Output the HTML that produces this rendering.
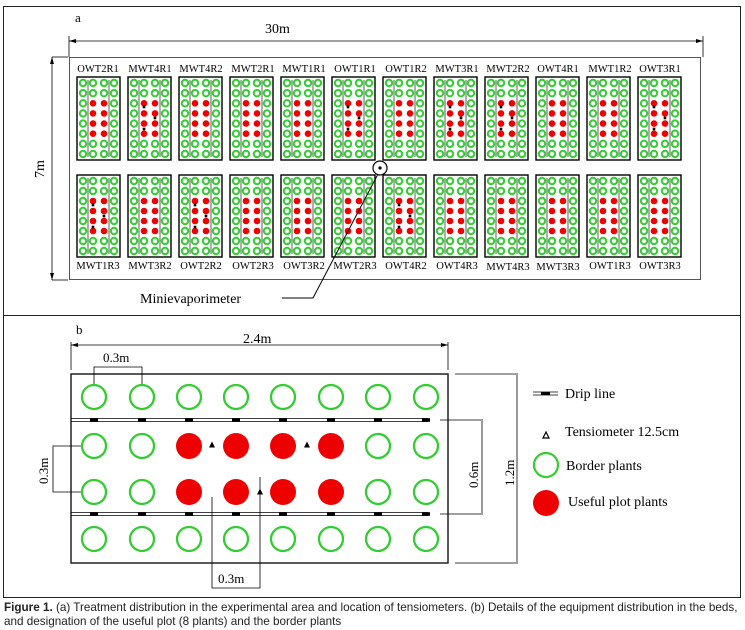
<!DOCTYPE html>
<html><head><meta charset="utf-8"><style>
html,body{margin:0;padding:0;background:#fff;width:745px;height:630px;overflow:hidden}
svg{display:block}
.t{font-family:"Liberation Serif",serif;fill:#000}
.cap{position:absolute;left:4px;top:601px;font-family:"Liberation Sans",sans-serif;font-size:11.7px;line-height:14px;color:#222;width:741px;white-space:nowrap}
</style></head><body>
<svg id="s" width="745" height="630" xmlns="http://www.w3.org/2000/svg">
<rect x="3.5" y="6.5" width="737" height="309" fill="none" stroke="#222" stroke-width="1"/>
<rect x="3.5" y="315.5" width="737" height="282" fill="none" stroke="#222" stroke-width="1"/>
<text class="t" x="75" y="22" font-size="13">a</text>
<text class="t" x="265" y="33" font-size="14">30m</text>
<line x1="69" y1="41" x2="703" y2="41" stroke="#000" stroke-width="0.8"/>
<polygon points="69,41 76,39 76,43" fill="#000"/><polygon points="703,41 696,39 696,43" fill="#000"/>
<line x1="69" y1="36" x2="69" y2="57" stroke="#000" stroke-width="0.8"/>
<line x1="703" y1="36" x2="703" y2="57" stroke="#000" stroke-width="0.8"/>
<rect x="69.5" y="57.5" width="631" height="222" fill="none" stroke="#555" stroke-width="1"/>
<line x1="52" y1="57" x2="52" y2="280" stroke="#000" stroke-width="0.8"/>
<line x1="52" y1="57" x2="68" y2="57" stroke="#000" stroke-width="0.8"/>
<line x1="52" y1="280" x2="68" y2="280" stroke="#000" stroke-width="0.8"/>
<polygon points="52,57 50,64 54,64" fill="#000"/><polygon points="52,280 50,273 54,273" fill="#000"/>
<text class="t" x="0" y="0" font-size="14" transform="translate(44,178) rotate(-90)">7m</text>
<g class="t" font-size="10.5" text-anchor="middle">
<text x="98" y="72">OWT2R1</text><text x="150" y="72">MWT4R1</text><text x="201" y="72">MWT4R2</text><text x="253" y="72">MWT2R1</text><text x="304" y="72">MWT1R1</text><text x="355" y="72">OWT1R1</text><text x="406" y="72">OWT1R2</text><text x="457" y="72">MWT3R1</text><text x="508" y="72">MWT2R2</text><text x="558" y="72">OWT4R1</text><text x="610" y="72">MWT1R2</text><text x="660" y="72">OWT3R1</text>
<text x="98" y="269">MWT1R3</text><text x="150" y="269">MWT3R2</text><text x="201" y="269">OWT2R2</text><text x="253" y="269">OWT2R3</text><text x="304" y="269">OWT3R2</text><text x="355" y="269">MWT2R3</text><text x="406" y="269">OWT4R2</text><text x="457" y="269">OWT4R3</text><text x="508" y="270">MWT4R3</text><text x="558" y="270">MWT3R3</text><text x="610" y="269">OWT1R3</text><text x="660" y="269">OWT3R3</text>
</g>
<g id="plots"></g>
<circle cx="380" cy="168" r="7" fill="#fff" stroke="#000" stroke-width="1.2"/>
<circle cx="380" cy="168" r="1.6" fill="#000"/>
<polyline points="378,174 313,298 282,298" fill="none" stroke="#000" stroke-width="1"/>
<text class="t" x="140" y="303" font-size="14">Minievaporimeter</text>

<text class="t" x="76" y="334" font-size="13">b</text>
<text class="t" x="243" y="343" font-size="14">2.4m</text>
<line x1="71" y1="345" x2="448" y2="345" stroke="#000" stroke-width="0.8"/>
<polygon points="71,345 78,343 78,347" fill="#000"/><polygon points="448,345 441,343 441,347" fill="#000"/>
<line x1="71" y1="342" x2="71" y2="370" stroke="#000" stroke-width="0.8"/>
<line x1="448" y1="342" x2="448" y2="370" stroke="#000" stroke-width="0.8"/>
<rect x="71" y="374" width="377" height="189" fill="none" stroke="#222" stroke-width="1.5"/>
<text class="t" x="103" y="362" font-size="13">0.3m</text>
<polyline points="94,410 94,367 142,367 142,410" fill="none" stroke="#000" stroke-width="0.8"/>
<polyline points="82,446 53,446 53,492 82,492" fill="none" stroke="#000" stroke-width="0.8"/>
<text class="t" font-size="13" transform="translate(48,484) rotate(-90)">0.3m</text>
<polyline points="212,497 212,588 260,588 260,477" fill="none" stroke="#000" stroke-width="0.8"/>
<text class="t" x="218" y="583" font-size="13">0.3m</text>
<line x1="440" y1="420" x2="483" y2="420" stroke="#000" stroke-width="0.8"/>
<line x1="440" y1="514" x2="483" y2="514" stroke="#000" stroke-width="0.8"/>
<line x1="482" y1="421" x2="482" y2="513" stroke="#000" stroke-width="0.8"/>
<text class="t" font-size="13" transform="translate(478,488) rotate(-90)">0.6m</text>
<line x1="455" y1="374" x2="518" y2="374" stroke="#000" stroke-width="0.8"/>
<line x1="455" y1="563" x2="518" y2="563" stroke="#000" stroke-width="0.8"/>
<line x1="517" y1="375" x2="517" y2="562" stroke="#000" stroke-width="0.8"/>
<text class="t" font-size="13" transform="translate(514,486) rotate(-90)">1.2m</text>
<g id="bed"></g>
<line x1="533" y1="392" x2="558" y2="392" stroke="#000" stroke-width="0.8"/>
<line x1="533" y1="395" x2="558" y2="395" stroke="#000" stroke-width="0.8"/>
<rect x="541" y="392" width="9" height="3" fill="#000"/>
<text class="t" x="565" y="398" font-size="14">Drip line</text>
<polygon points="546,432 543,438 549,438" fill="#fff" stroke="#000" stroke-width="1.2"/>
<text class="t" x="565" y="436" font-size="14">Tensiometer 12.5cm</text>
<circle cx="546" cy="465" r="12" fill="#fff" stroke="#33cc33" stroke-width="2.2"/>
<text class="t" x="566" y="470" font-size="14">Border plants</text>
<circle cx="546" cy="503" r="13" fill="#ee0000"/>
<text class="t" x="568" y="506" font-size="14">Useful plot plants</text>
</svg>
<div class="cap"><b>Figure 1.</b> (a) Treatment distribution in the experimental area and location of tensiometers. (b) Details of the equipment distribution in the beds,<br>and designation of the useful plot (8 plants) and the border plants</div>
<script>
var NS="http://www.w3.org/2000/svg";
function el(p,n,a){var e=document.createElementNS(NS,n);for(var k in a)e.setAttribute(k,a[k]);p.appendChild(e);return e;}
var P=document.getElementById("plots");
var topT=[1,5,7,8,11],botT=[0,2,6];
for(var r=0;r<2;r++){var y=r?175:77,h=r?82:83;
for(var i=0;i<12;i++){var x=77+i*51;
el(P,"rect",{x:x,y:y,width:43,height:h,fill:"#fff",stroke:"#000","stroke-width":1.4});
el(P,"line",{x1:x+11,y1:y+3,x2:x+11,y2:y+h-3,stroke:"#777","stroke-width":1.2});
el(P,"line",{x1:x+32,y1:y+3,x2:x+32,y2:y+h-3,stroke:"#777","stroke-width":1.2});
var cx=[6,16,27,37];
for(var j=0;j<8;j++){var cy=y+6+j*(h-12)/7;
for(var c=0;c<4;c++){
if((c==1||c==2)&&j>=2&&j<=5)el(P,"circle",{cx:x+cx[c],cy:cy,r:3.3,fill:"#e00"});
else el(P,"circle",{cx:x+cx[c],cy:cy,r:3.2,fill:"#fff",stroke:"#3c3","stroke-width":2});}}
var T=r?botT:topT;if(T.indexOf(i)>=0){
[[16,30],[27,41],[16,52]].forEach(function(d){el(P,"rect",{x:x+d[0]-1.3,y:y+d[1]-1.3,width:2.6,height:2.6,fill:"#000"});});}
}}
var B=document.getElementById("bed");
var xs=[94,142,189,236,283,331,378,426],ys=[397,446,492,539];
[420,514].forEach(function(yy){
el(B,"line",{x1:71,y1:yy-1.5,x2:428,y2:yy-1.5,stroke:"#000","stroke-width":0.8});
el(B,"line",{x1:71,y1:yy+1.5,x2:428,y2:yy+1.5,stroke:"#000","stroke-width":0.8});
xs.forEach(function(x,k){el(B,"rect",{x:x-4,y:yy-1.8,width:8,height:3.6,fill:"#000"});});});
ys.forEach(function(y,ri){xs.forEach(function(x,ci){
if((ri==1||ri==2)&&ci>=2&&ci<=5)el(B,"circle",{cx:x,cy:y,r:13,fill:"#ee0000"});
else el(B,"circle",{cx:x,cy:y,r:12,fill:"#fff",stroke:"#33cc33","stroke-width":2.3});});});
[[212,445],[307,445],[260,492]].forEach(function(p){el(B,"polygon",{points:(p[0])+","+(p[1]-3.5)+" "+(p[0]-3)+","+(p[1]+2.5)+" "+(p[0]+3)+","+(p[1]+2.5),fill:"#000"});});
</script>
</body></html>
